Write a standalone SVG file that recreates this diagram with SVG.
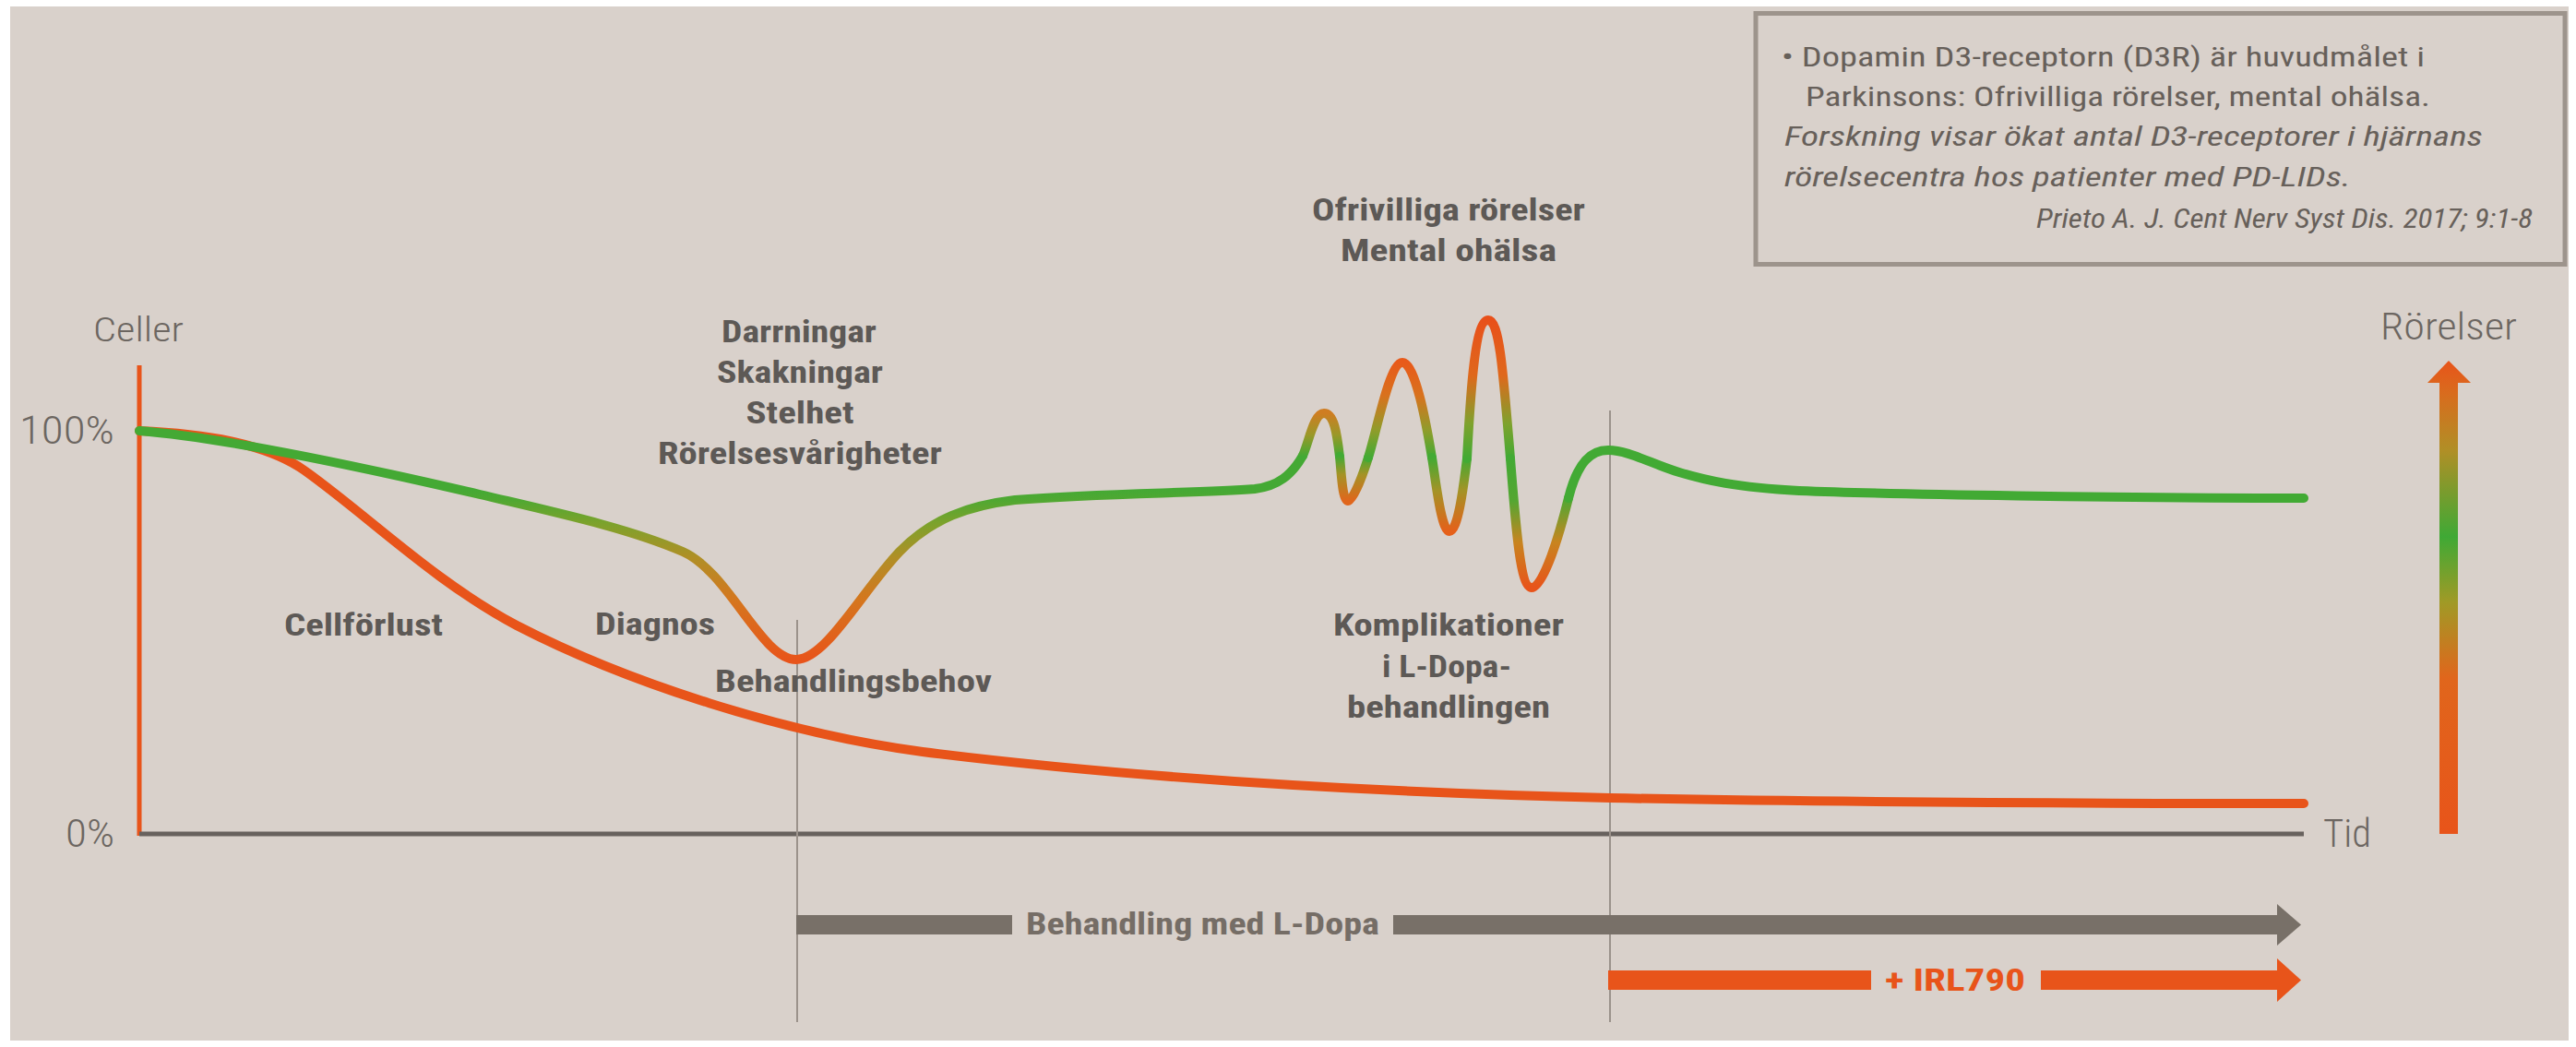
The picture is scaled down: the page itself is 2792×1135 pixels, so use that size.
<svg xmlns="http://www.w3.org/2000/svg" width="2792" height="1135" viewBox="0 0 2792 1135">
<defs>
<style>
.ax{font-family:'Liberation Sans Narrow','Roboto Condensed','Roboto','Liberation Sans',sans-serif;font-weight:300;fill:#6c6661;}
.lb{font-family:'Liberation Sans Narrow','Roboto Condensed','Roboto','Liberation Sans',sans-serif;font-weight:700;fill:#5d5956;font-size:33px;}
.bx{font-family:'Liberation Sans Narrow','Roboto Condensed','Roboto','Liberation Sans',sans-serif;font-weight:400;fill:#67605a;font-size:30px;}
.it{font-style:italic;}
.crv{fill:none;stroke-linecap:round;stroke-linejoin:round;stroke-width:10;}
.vl{stroke:#9b928b;stroke-width:2;fill:none;}
</style>
<linearGradient id="gDip" gradientUnits="userSpaceOnUse" x1="0" y1="530" x2="0" y2="716">
<stop offset="0" stop-color="#44a934"/>
<stop offset="0.06" stop-color="#4ea832"/>
<stop offset="0.2" stop-color="#7ca22c"/>
<stop offset="0.4" stop-color="#b08f26"/>
<stop offset="0.65" stop-color="#d5761e"/>
<stop offset="1" stop-color="#e8541a"/>
</linearGradient>
<linearGradient id="gH1" x1="0" y1="0" x2="0" y2="1">
<stop offset="0" stop-color="#cf7d22"/>
<stop offset="0.5" stop-color="#9a9828"/>
<stop offset="1" stop-color="#42aa34"/>
</linearGradient>
<linearGradient id="gH2" x1="0" y1="0" x2="0" y2="1">
<stop offset="0" stop-color="#e85a1a"/>
<stop offset="0.35" stop-color="#d8721e"/>
<stop offset="0.72" stop-color="#8e9d2b"/>
<stop offset="1" stop-color="#42aa34"/>
</linearGradient>
<linearGradient id="gH3" x1="0" y1="0" x2="0" y2="1">
<stop offset="0" stop-color="#e8501a"/>
<stop offset="0.4" stop-color="#df681c"/>
<stop offset="0.75" stop-color="#7ea22d"/>
<stop offset="1" stop-color="#42aa34"/>
</linearGradient>
<linearGradient id="gT1" x1="0" y1="0" x2="0" y2="1">
<stop offset="0" stop-color="#42aa34"/>
<stop offset="0.4" stop-color="#a49326"/>
<stop offset="1" stop-color="#e0661c"/>
</linearGradient>
<linearGradient id="gT2" x1="0" y1="0" x2="0" y2="1">
<stop offset="0" stop-color="#42aa34"/>
<stop offset="0.45" stop-color="#a49326"/>
<stop offset="1" stop-color="#e5601a"/>
</linearGradient>
<linearGradient id="gT3" x1="0" y1="0" x2="0" y2="1">
<stop offset="0" stop-color="#42aa34"/>
<stop offset="0.33" stop-color="#55a632"/>
<stop offset="0.65" stop-color="#c8841f"/>
<stop offset="1" stop-color="#e8541a"/>
</linearGradient>
<linearGradient id="gArrow" gradientUnits="userSpaceOnUse" x1="0" y1="391" x2="0" y2="904">
<stop offset="0" stop-color="#e8541a"/>
<stop offset="0.07" stop-color="#d86c1e"/>
<stop offset="0.19" stop-color="#b08f26"/>
<stop offset="0.372" stop-color="#3fa935"/>
<stop offset="0.51" stop-color="#a09a26"/>
<stop offset="0.67" stop-color="#e0661c"/>
<stop offset="1" stop-color="#e8541a"/>
</linearGradient>
</defs>

<rect x="0" y="0" width="2792" height="1135" fill="#ffffff"/>
<rect x="11" y="7" width="2773" height="1121" fill="#d9d1cb"/>

<g id="info-box">
<rect x="1903" y="14.5" width="877" height="272" fill="#d9d1cb" stroke="#9d948c" stroke-width="5"/>
<text class="bx" x="1931" y="72" textLength="697" lengthAdjust="spacingAndGlyphs">• Dopamin D3-receptorn (D3R) är huvudmålet i</text>
<text class="bx" x="1957" y="115" textLength="677" lengthAdjust="spacingAndGlyphs">Parkinsons: Ofrivilliga rörelser, mental ohälsa.</text>
<text class="bx it" x="1934" y="158" textLength="757" lengthAdjust="spacingAndGlyphs">Forskning visar ökat antal D3-receptorer i hjärnans</text>
<text class="bx it" x="1934" y="202" textLength="614" lengthAdjust="spacingAndGlyphs">rörelsecentra hos patienter med PD-LIDs.</text>
<text class="bx it" x="2745" y="247" text-anchor="end" font-size="27" textLength="538" lengthAdjust="spacingAndGlyphs">Prieto A. J. Cent Nerv Syst Dis. 2017; 9:1-8</text>
</g>

<g id="axes">
<line x1="151" y1="396" x2="151" y2="906" stroke="#e8541a" stroke-width="5"/>
<line x1="151" y1="904" x2="2497" y2="904" stroke="#68625e" stroke-width="5"/>
<text class="ax" x="101" y="370" font-size="37" textLength="98" lengthAdjust="spacingAndGlyphs">Celler</text>
<text class="ax" x="21" y="481" font-size="43" textLength="103" lengthAdjust="spacingAndGlyphs">100%</text>
<text class="ax" x="71" y="918" font-size="43" textLength="53" lengthAdjust="spacingAndGlyphs">0%</text>
<text class="ax" x="2518" y="918" font-size="43" textLength="52" lengthAdjust="spacingAndGlyphs">Tid</text>
<text class="ax" x="2580" y="368" font-size="41" textLength="148" lengthAdjust="spacingAndGlyphs">Rörelser</text>
</g>

<g id="guides">
<line class="vl" x1="864" y1="672" x2="864" y2="1108"/>
<line class="vl" x1="1745" y1="445" x2="1745" y2="1108"/>
</g>

<g id="cell-curve">
<path class="crv" stroke="#e8541a" stroke-width="11" d="M151,467 C220,470 288,480 330,510 C400,560 470,630 560,678 C680,740 850,795 1000,815 C1200,840 1450,858 1745,865 C2000,870 2300,871 2497,871"/>
</g>

<g id="movement-curve">
<path class="crv" stroke="url(#gDip)" d="M151,467 C250,475 400,508 520,536 C600,555 680,572 740,598 C790,620 825,715 863,715 C895,715 935,640 975,598 C1010,562 1050,548 1100,542 C1200,534 1300,535 1360,530 C1385,527 1400,515 1412,494"/>
<path class="crv" stroke="url(#gH1)" d="M1412,494 C1419,478 1424,448 1435,448 C1446,448 1449,470 1452,495"/>
<path class="crv" stroke="url(#gT1)" d="M1452,495 C1454,515 1455,543 1461,543 C1467,543 1478,512 1483,496"/>
<path class="crv" stroke="url(#gH2)" d="M1483,496 C1492,468 1506,393 1520,393 C1534,393 1546,460 1552,496"/>
<path class="crv" stroke="url(#gT2)" d="M1552,496 C1556,520 1562,576 1571,576 C1580,576 1586,530 1590,497"/>
<path class="crv" stroke="url(#gH3)" d="M1590,497 C1594,420 1599,347 1613,347 C1625,347 1629,400 1637,497"/>
<path class="crv" stroke="url(#gT3)" d="M1637,497 C1643,575 1648,637 1660,637 C1673,637 1690,580 1700,540"/>
<path class="crv" stroke="#42aa34" d="M1700,540 C1710,500 1725,488 1743,488 C1765,488 1790,503 1820,512 C1850,521 1880,528 1950,532 C2050,536 2300,540 2497,540"/>
</g>

<g id="labels">
<text class="lb" x="866" y="371" text-anchor="middle" textLength="168" lengthAdjust="spacingAndGlyphs">Darrningar</text>
<text class="lb" x="867" y="415" text-anchor="middle" textLength="180" lengthAdjust="spacingAndGlyphs">Skakningar</text>
<text class="lb" x="867" y="459" text-anchor="middle" textLength="117" lengthAdjust="spacingAndGlyphs">Stelhet</text>
<text class="lb" x="867" y="503" text-anchor="middle" textLength="308" lengthAdjust="spacingAndGlyphs">Rörelsesvårigheter</text>
<text class="lb" x="308" y="689" textLength="172" lengthAdjust="spacingAndGlyphs">Cellförlust</text>
<text class="lb" x="645" y="688" textLength="130" lengthAdjust="spacingAndGlyphs">Diagnos</text>
<text class="lb" x="775" y="750" textLength="300" lengthAdjust="spacingAndGlyphs">Behandlingsbehov</text>
<text class="lb" x="1570" y="239" text-anchor="middle" textLength="296" lengthAdjust="spacingAndGlyphs">Ofrivilliga rörelser</text>
<text class="lb" x="1570" y="283" text-anchor="middle" textLength="234" lengthAdjust="spacingAndGlyphs">Mental ohälsa</text>
<text class="lb" x="1570" y="689" text-anchor="middle" textLength="250" lengthAdjust="spacingAndGlyphs">Komplikationer</text>
<text class="lb" x="1568" y="734" text-anchor="middle" textLength="140" lengthAdjust="spacingAndGlyphs">i L-Dopa-</text>
<text class="lb" x="1570" y="778" text-anchor="middle" textLength="220" lengthAdjust="spacingAndGlyphs">behandlingen</text>
</g>

<g id="movement-arrow">
<rect x="2644" y="414" width="20" height="490" fill="url(#gArrow)"/>
<polygon points="2631,415 2654,391 2678,415" fill="url(#gArrow)"/>
</g>

<g id="treatment-ldopa">
<rect x="863" y="992" width="234" height="21" fill="#787068"/>
<rect x="1510" y="992" width="959" height="21" fill="#787068"/>
<polygon points="2468,980 2494,1002.5 2468,1025" fill="#787068"/>
<text class="lb" x="1112" y="1013" font-size="35" style="fill:#756d66" textLength="383" lengthAdjust="spacingAndGlyphs">Behandling med L-Dopa</text>
</g>

<g id="treatment-irl790">
<rect x="1743" y="1052" width="285" height="21" fill="#e8541a"/>
<rect x="2212" y="1052" width="257" height="21" fill="#e8541a"/>
<polygon points="2468,1039 2494,1062.5 2468,1086" fill="#e8541a"/>
<text class="lb" x="2043" y="1074" font-size="34" style="fill:#e8541a" textLength="152" lengthAdjust="spacingAndGlyphs">+ IRL790</text>
</g>
</svg>
